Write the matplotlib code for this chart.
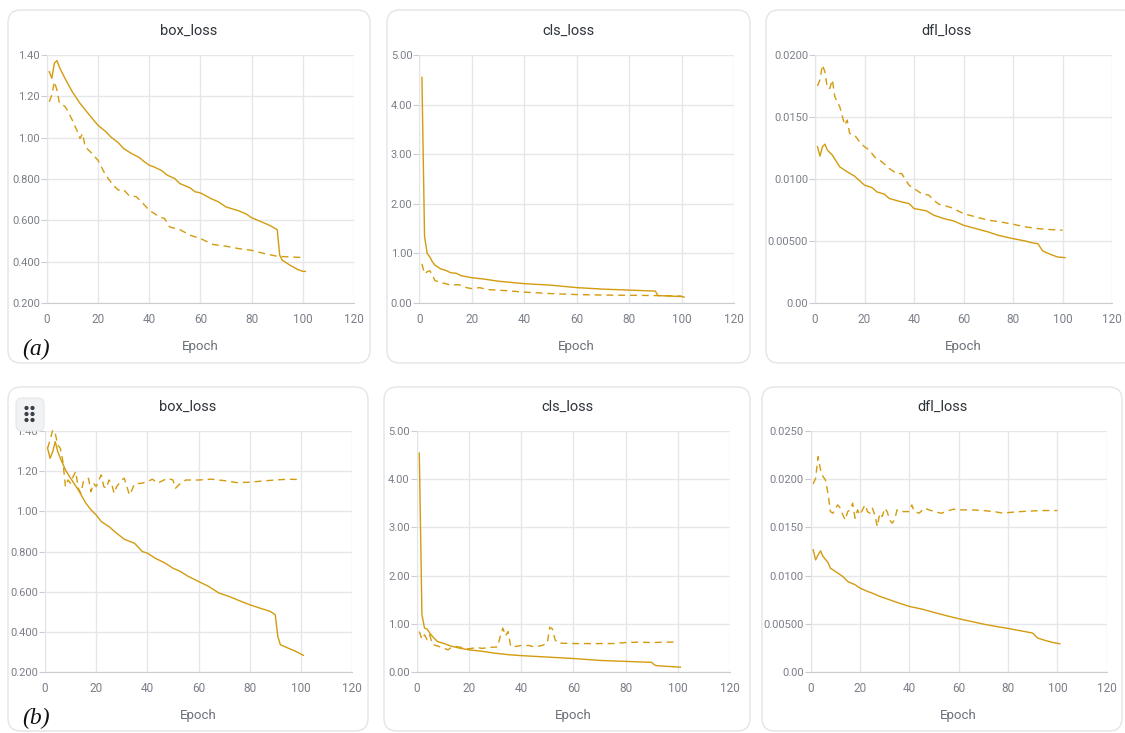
import matplotlib
matplotlib.use("Agg")
import matplotlib.pyplot as plt
from matplotlib.patches import FancyBboxPatch
from matplotlib import transforms

W, H = 1125, 733
COLOR = "#d39b0e"

# ---------------- data ----------------
# (a) box_loss
a_box_train_x = [1, 2, 3, 4, 5, 7, 10, 13, 16, 20, 23, 25, 28, 30, 33, 36, 38, 40, 42, 45, 47, 50, 52, 56, 58, 60, 64, 67, 70, 75, 78, 80, 84, 87, 90, 91, 92, 95, 98, 100, 101]
a_box_train_y = [1.319, 1.287, 1.36, 1.373, 1.34, 1.29, 1.222, 1.166, 1.12, 1.06, 1.03, 1.004, 0.975, 0.948, 0.924, 0.905, 0.885, 0.867, 0.858, 0.84, 0.819, 0.802, 0.778, 0.757, 0.738, 0.733, 0.706, 0.69, 0.665, 0.646, 0.63, 0.613, 0.592, 0.576, 0.555, 0.431, 0.407, 0.383, 0.362, 0.353, 0.353]
a_box_val_x = [1, 2, 3, 4, 5, 7, 8, 10, 12, 13, 14, 15, 17, 20, 23, 26, 28, 30, 32, 35, 37, 40, 44, 46, 48, 52, 56, 60, 65, 70, 75, 80, 85, 90, 95, 100]
a_box_val_y = [1.174, 1.206, 1.271, 1.23, 1.166, 1.153, 1.134, 1.085, 1.029, 0.996, 1.02, 0.956, 0.932, 0.891, 0.819, 0.77, 0.746, 0.749, 0.722, 0.714, 0.69, 0.649, 0.617, 0.609, 0.568, 0.555, 0.528, 0.512, 0.483, 0.475, 0.463, 0.455, 0.439, 0.426, 0.423, 0.42]

# (a) cls_loss
a_cls_train_x = [1, 2, 3, 4, 5, 6, 7, 8, 10, 12, 14, 16, 20, 25, 30, 40, 50, 60, 70, 80, 90, 91, 100, 101]
a_cls_train_y = [4.55, 1.34, 1.0, 0.93, 0.83, 0.76, 0.73, 0.69, 0.66, 0.61, 0.60, 0.55, 0.51, 0.48, 0.44, 0.39, 0.36, 0.31, 0.28, 0.26, 0.24, 0.15, 0.13, 0.12]
a_cls_val_x = [1, 2, 3, 4, 5, 6, 8, 10, 12, 15, 18, 20, 23, 26, 30, 40, 50, 60, 70, 80, 90, 100]
a_cls_val_y = [0.79, 0.59, 0.63, 0.65, 0.56, 0.45, 0.42, 0.39, 0.36, 0.37, 0.31, 0.29, 0.31, 0.27, 0.26, 0.22, 0.19, 0.17, 0.16, 0.155, 0.15, 0.14]

# (a) dfl_loss
a_dfl_train_x = [1, 2, 3, 4, 5, 7, 10, 13, 16, 20, 23, 25, 28, 30, 35, 38, 40, 45, 48, 52, 56, 60, 65, 70, 74, 80, 85, 88, 90, 92, 95, 98, 101]
a_dfl_train_y = [0.0126, 0.01184, 0.0126, 0.01281, 0.01233, 0.01193, 0.01098, 0.01058, 0.01023, 0.0095, 0.00931, 0.00896, 0.00878, 0.00843, 0.00815, 0.00802, 0.00762, 0.00743, 0.00708, 0.00681, 0.00662, 0.00627, 0.006, 0.00573, 0.00546, 0.00519, 0.005, 0.00484, 0.00479, 0.0042, 0.00393, 0.00371, 0.00366]
a_dfl_val_x = [1, 2, 3, 4, 5, 6, 7, 8, 10, 12, 13, 14, 16, 18, 20, 22, 24, 27, 30, 33, 35, 38, 40, 43, 46, 48, 50, 55, 60, 65, 70, 75, 80, 85, 90, 95, 100]
a_dfl_val_y = [0.0175, 0.0180, 0.0192, 0.01865, 0.01731, 0.01731, 0.0180, 0.01663, 0.01583, 0.01435, 0.01475, 0.01367, 0.01354, 0.0130, 0.0126, 0.01233, 0.01179, 0.01139, 0.01085, 0.01044, 0.01044, 0.0095, 0.00923, 0.00883, 0.0087, 0.00829, 0.00797, 0.0077, 0.00721, 0.00694, 0.00668, 0.00654, 0.00635, 0.00614, 0.006, 0.00592, 0.00587]

# (b) box_loss
b_box_train_x = [1, 2, 3, 4, 5, 6, 8, 10, 13, 16, 18, 20, 22, 25, 28, 31, 35, 38, 40, 43, 47, 50, 53, 56, 60, 64, 68, 72, 76, 80, 84, 88, 90, 91, 92, 95, 98, 101]
b_box_train_y = [1.314, 1.264, 1.297, 1.347, 1.297, 1.264, 1.206, 1.165, 1.107, 1.04, 1.007, 0.982, 0.949, 0.924, 0.891, 0.861, 0.841, 0.80, 0.792, 0.767, 0.742, 0.717, 0.70, 0.676, 0.651, 0.626, 0.593, 0.576, 0.555, 0.535, 0.518, 0.502, 0.485, 0.377, 0.336, 0.319, 0.303, 0.283]
b_box_val_x = [1, 2, 3, 4, 5, 6, 7, 8, 9, 10, 11, 12, 13, 14, 15, 16, 17, 18, 19, 20, 21, 22, 23, 24, 25, 26, 27, 28, 29, 30, 31, 32, 33, 34, 35, 38, 40, 42, 44, 46, 48, 50, 51, 53, 55, 60, 65, 70, 75, 80, 85, 90, 95, 100]
b_box_val_y = [1.314, 1.355, 1.405, 1.388, 1.33, 1.314, 1.248, 1.123, 1.156, 1.14, 1.173, 1.198, 1.115, 1.09, 1.148, 1.156, 1.165, 1.098, 1.14, 1.123, 1.156, 1.181, 1.123, 1.115, 1.156, 1.14, 1.09, 1.123, 1.14, 1.156, 1.165, 1.123, 1.082, 1.107, 1.137, 1.14, 1.148, 1.16, 1.14, 1.153, 1.165, 1.156, 1.115, 1.14, 1.156, 1.156, 1.16, 1.153, 1.143, 1.145, 1.151, 1.156, 1.16, 1.158]

# (b) cls_loss
b_cls_train_x = [1, 2, 3, 4, 5, 6, 8, 10, 13, 16, 20, 25, 30, 35, 40, 50, 60, 70, 80, 90, 91, 92, 101]
b_cls_train_y = [4.54, 1.19, 0.91, 0.89, 0.81, 0.74, 0.63, 0.60, 0.54, 0.50, 0.46, 0.43, 0.39, 0.36, 0.34, 0.31, 0.28, 0.24, 0.22, 0.20, 0.15, 0.13, 0.10]
b_cls_val_x = [1, 2, 3, 4, 5, 6, 8, 10, 12, 13, 15, 18, 20, 23, 25, 28, 31, 32, 33, 34, 35, 36, 38, 40, 43, 45, 48, 50, 51, 52, 53, 54, 60, 65, 70, 75, 80, 85, 90, 95, 100]
b_cls_val_y = [0.84, 0.68, 0.77, 0.67, 0.77, 0.57, 0.54, 0.50, 0.46, 0.50, 0.53, 0.50, 0.48, 0.51, 0.49, 0.51, 0.52, 0.74, 0.91, 0.75, 0.84, 0.53, 0.53, 0.55, 0.55, 0.52, 0.55, 0.60, 0.93, 0.89, 0.67, 0.60, 0.59, 0.59, 0.59, 0.59, 0.61, 0.62, 0.61, 0.62, 0.62]

# (b) dfl_loss
b_dfl_train_x = [1, 2, 3, 4, 5, 7, 8, 10, 13, 15, 18, 20, 23, 25, 28, 30, 35, 40, 45, 50, 55, 60, 65, 70, 75, 80, 85, 90, 92, 95, 98, 101]
b_dfl_train_y = [0.01267, 0.01163, 0.01215, 0.01257, 0.01198, 0.01136, 0.01077, 0.01043, 0.00991, 0.00939, 0.00905, 0.0087, 0.00836, 0.00818, 0.00784, 0.00767, 0.00722, 0.0068, 0.00653, 0.00618, 0.00584, 0.00553, 0.00525, 0.00497, 0.00473, 0.00452, 0.00428, 0.00404, 0.00352, 0.00328, 0.00307, 0.00293]
b_dfl_val_x = [1, 2, 3, 4, 5, 6, 7, 8, 9, 10, 11, 12, 13, 14, 15, 16, 17, 18, 19, 20, 21, 22, 23, 24, 25, 26, 27, 28, 29, 30, 31, 32, 33, 34, 35, 37, 40, 41, 42, 44, 46, 48, 50, 53, 56, 58, 60, 65, 70, 75, 78, 80, 85, 90, 95, 100]
b_dfl_val_y = [0.01951, 0.0201, 0.02234, 0.02096, 0.02027, 0.01992, 0.01854, 0.01664, 0.01647, 0.01699, 0.01733, 0.01699, 0.0163, 0.01578, 0.01664, 0.01682, 0.01751, 0.01595, 0.01682, 0.0163, 0.01682, 0.01733, 0.01664, 0.01647, 0.01699, 0.0163, 0.01509, 0.01647, 0.01613, 0.01699, 0.01664, 0.01578, 0.01544, 0.01578, 0.01682, 0.01664, 0.01664, 0.01733, 0.01664, 0.01647, 0.01699, 0.01682, 0.01664, 0.01647, 0.01675, 0.01689, 0.01682, 0.01682, 0.01675, 0.01661, 0.01647, 0.01654, 0.01664, 0.01671, 0.01675, 0.01675]

titles = ["box_loss", "cls_loss", "dfl_loss"]
x_ticks = [0, 20, 40, 60, 80, 100, 120]
box_ticks = [0.2, 0.4, 0.6, 0.8, 1.0, 1.2, 1.4]
box_labels = ["0.200", "0.400", "0.600", "0.800", "1.00", "1.20", "1.40"]
cls_ticks = [0, 1, 2, 3, 4, 5]
cls_labels = ["0.00", "1.00", "2.00", "3.00", "4.00", "5.00"]
dfl_a_ticks = [0, 0.005, 0.010, 0.015, 0.020]
dfl_a_labels = ["0.00", "0.00500", "0.0100", "0.0150", "0.0200"]
dfl_b_ticks = [0, 0.005, 0.010, 0.015, 0.020, 0.025]
dfl_b_labels = ["0.00", "0.00500", "0.0100", "0.0150", "0.0200", "0.0250"]

# ---------------- layout (pixels) ----------------
fig = plt.figure(figsize=(W / 100, H / 100), dpi=100)
fig.patch.set_facecolor("white")
pix = transforms.Affine2D().scale(1 / 100, -1 / 100).translate(0, H / 100) + fig.dpi_scale_trans

cards = [(8, 10, 370, 363), (387, 10, 750, 363), (766, 10, 1135, 363),
         (8, 387, 368, 731), (384, 387, 750, 731), (762, 387, 1122, 731)]
for (x0, y0, x1, y1) in cards:
    p = FancyBboxPatch((x0, y0), x1 - x0, y1 - y0, boxstyle="round,pad=0,rounding_size=13",
                       transform=pix, facecolor="white", edgecolor="#e3e5e8", linewidth=1.0,
                       zorder=-10)
    fig.patches.append(p)

axes_px = [(46.7, 55, 354, 303), (419.3, 55, 734, 303), (815, 55, 1112, 303),
           (45, 431, 352, 672), (416.7, 431, 730, 672), (810.7, 431, 1106.7, 672)]

panels = [
    (a_box_train_x, a_box_train_y, a_box_val_x, a_box_val_y, box_ticks, box_labels),
    (a_cls_train_x, a_cls_train_y, a_cls_val_x, a_cls_val_y, cls_ticks, cls_labels),
    (a_dfl_train_x, a_dfl_train_y, a_dfl_val_x, a_dfl_val_y, dfl_a_ticks, dfl_a_labels),
    (b_box_train_x, b_box_train_y, b_box_val_x, b_box_val_y, box_ticks, box_labels),
    (b_cls_train_x, b_cls_train_y, b_cls_val_x, b_cls_val_y, cls_ticks, cls_labels),
    (b_dfl_train_x, b_dfl_train_y, b_dfl_val_x, b_dfl_val_y, dfl_b_ticks, dfl_b_labels),
]

tick_color = "#7a7f88"
grid_color = "#e6e7eb"
for i, ((x0, y0, x1, y1), (tx, ty, vx, vy, yt, yl)) in enumerate(zip(axes_px, panels)):
    ax = fig.add_axes([x0 / W, 1 - y1 / H, (x1 - x0) / W, (y1 - y0) / H])
    ax.set_facecolor("none")
    ax.plot(tx, ty, color=COLOR, lw=1.0, solid_joinstyle="round", zorder=3, clip_on=False)
    ax.plot(vx, vy, color=COLOR, lw=1.0, linestyle=(0, (5, 3.5)), zorder=3, clip_on=False)
    ax.set_xlim(0, 120)
    ax.set_ylim(yt[0], yt[-1])
    ax.set_xticks(x_ticks)
    ax.set_xticklabels([str(v) for v in x_ticks])
    ax.set_yticks(yt)
    ax.set_yticklabels(yl)
    ax.grid(True, color=grid_color, linewidth=1.0)
    ax.set_axisbelow(True)
    for s in ["top", "right"]:
        ax.spines[s].set_visible(False)
    ax.spines["left"].set_color("#e3e5e8")
    ax.spines["bottom"].set_color("#c9ccd1")
    ax.tick_params(axis="y", length=4, width=0.8, color="#c9ccd1", labelcolor=tick_color,
                   labelsize=8, pad=1)
    ax.tick_params(axis="x", length=0, labelcolor=tick_color, labelsize=8.5, pad=7)
    for lab in ax.get_xticklabels() + ax.get_yticklabels():
        lab.set_fontfamily("Roboto")
    ax.set_xlabel("Epoch", fontsize=9.5, color="#6b7079", labelpad=10, family="Roboto")
    cx0, cy0, cx1, cy1 = cards[i]
    ty_px = 31 if i < 3 else 407
    fig.text(((cx0 + min(cx1, 1125)) / 2 if i != 2 else 946) / W, 1 - ty_px / H, titles[i % 3],
             ha="center", va="center", fontsize=10.5, color="#2f343b", family="Roboto")

# panel labels
fig.text(22 / W, 1 - 349 / H, "(a)", fontsize=17, style="italic", family="Liberation Serif",
         ha="left", va="center", color="#111111")
fig.text(22 / W, 1 - 718 / H, "(b)", fontsize=17, style="italic", family="Liberation Serif",
         ha="left", va="center", color="#111111")

# drag handle icon on lower-left card
icon = FancyBboxPatch((16, 398), 28, 33, boxstyle="round,pad=0,rounding_size=6", transform=pix,
                      facecolor="#f1f2f4", edgecolor="#e6e7ea", linewidth=0.8, zorder=5)
fig.patches.append(icon)
for dx in (26.5, 32.5):
    for dy in (408, 414, 420):
        fig.patches.append(plt.Circle((dx, dy), 1.4, transform=pix, color="#3a3f46", zorder=6))

fig.savefig("out.png", dpi=100, facecolor="white")
